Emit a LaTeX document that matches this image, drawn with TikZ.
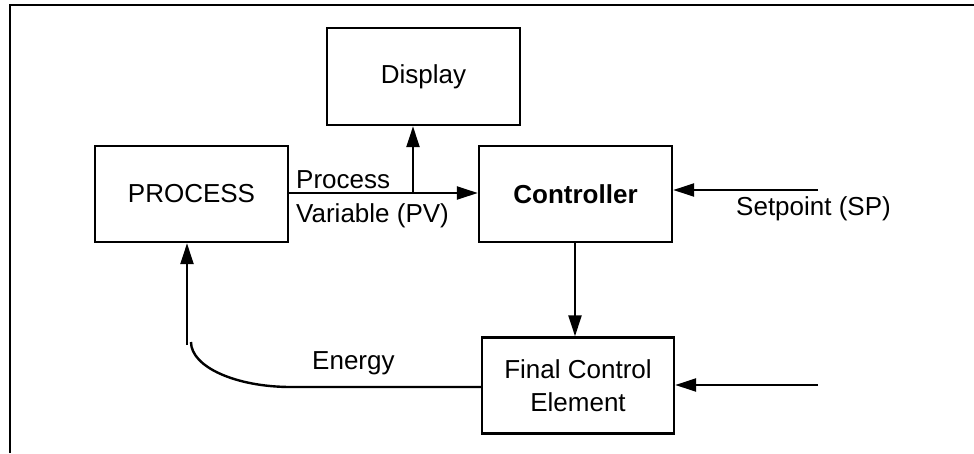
\documentclass[tikz,border=0pt]{standalone}
\usepackage{fontspec}
\setmainfont{Liberation Sans}
\usetikzlibrary{arrows.meta}
\begin{document}
\begin{tikzpicture}[x=1pt,y=-1pt,
  blk/.style={draw,line width=2.4pt,inner sep=0pt,align=center,font=\fontsize{26}{33}\selectfont},
  lbl/.style={inner sep=0pt,anchor=base west,font=\fontsize{26}{33}\selectfont},
  conn/.style={line width=2.4pt},
  arr/.style={conn,-{Triangle[length=21pt,width=13pt]}}]
\useasboundingbox (0,0) rectangle (974,453);
\draw[line width=2pt] (10,453) -- (10,5) -- (974,5);
% blocks
\node[blk,minimum width=193pt,minimum height=96pt] (proc) at (191.5,194) {PROCESS};
\node[blk,minimum width=193pt,minimum height=97pt] (disp) at (423.5,76.5) {Display};
\node[blk,minimum width=193pt,minimum height=96pt] (ctrl) at (575.5,194) {\bfseries Controller};
\node[blk,minimum width=192pt,minimum height=96pt] (fce) at (578,385.5) {Final Control\\Element};
% connectors
\coordinate (pvs) at (proc.east |- 0,193);
\coordinate (pve) at (ctrl.west |- 0,193);
\draw[arr] (pvs) -- (pve);
\coordinate (tap) at (413,193);
\draw[arr] (tap) -- (tap |- disp.south);
\coordinate (sp) at (818,190);
\draw[arr] (sp) -- (sp -| ctrl.east);
\coordinate (cd) at (575,242);
\draw[arr] (cd |- ctrl.south) -- (cd |- fce.north);
\coordinate (fin) at (818,385);
\draw[arr] (fin) -- (fin -| fce.east);
\coordinate (ew) at (fce.west |- 0,387);
\coordinate (ec) at (291,387);
\coordinate (et) at (191,342);
\draw[conn] (ew) -- (ec) .. controls (236,387) and (191,367) .. (et);
\coordinate (up) at (187,345);
\draw[arr] (up) -- (up |- proc.south);
% labels
\node[lbl] (l1) at (296,188) {Process};
\node[lbl] (l2) at (296,222) {Variable (PV)};
\node[lbl] (l3) at (736,215) {Setpoint (SP)};
\node[lbl] (l4) at (312,369) {Energy};
\end{tikzpicture}
\end{document}
